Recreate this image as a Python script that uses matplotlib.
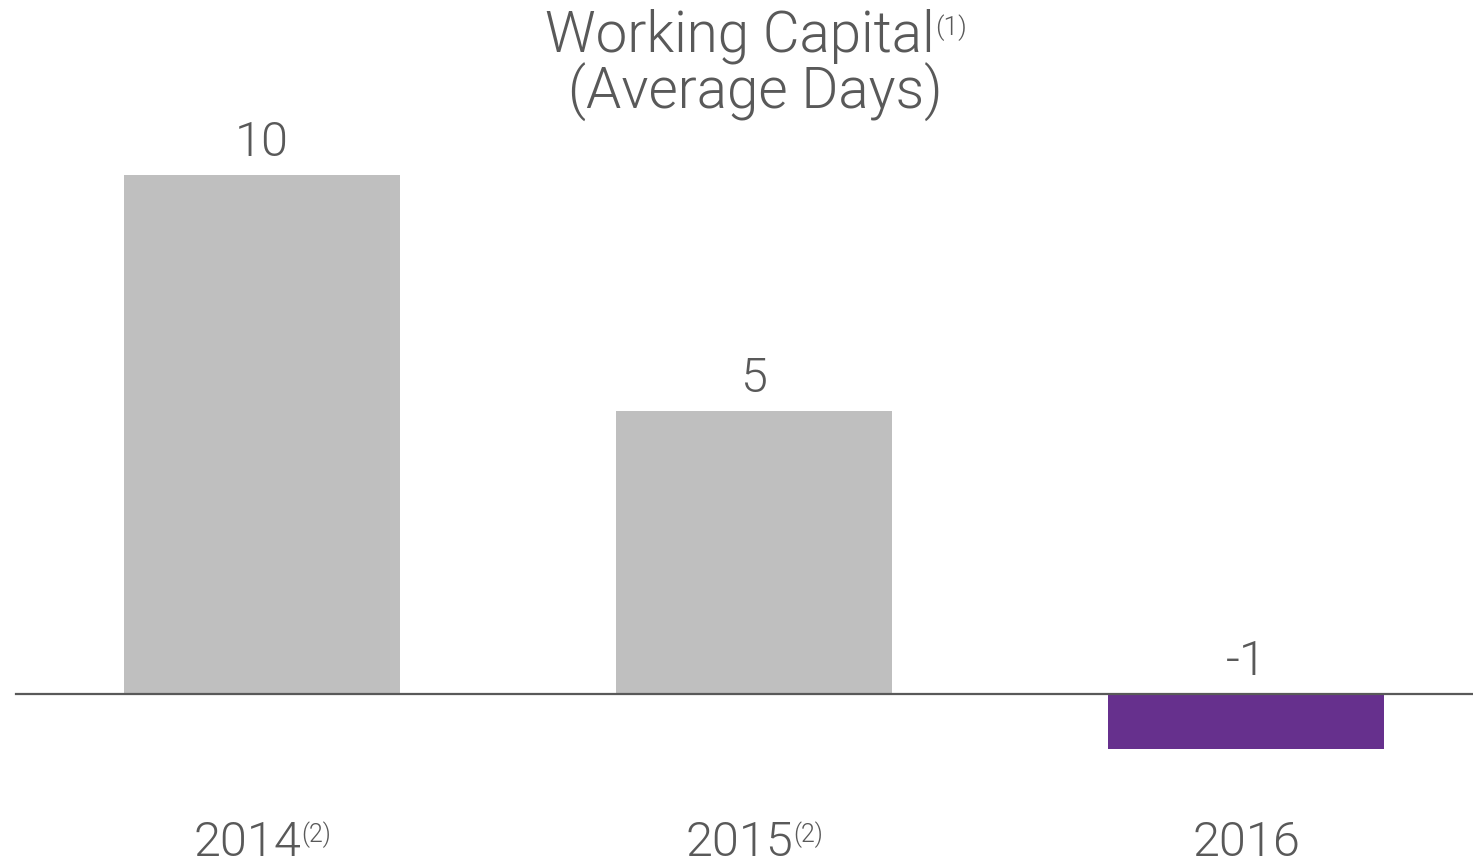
import matplotlib
matplotlib.use("Agg")
import matplotlib.pyplot as plt
from matplotlib.transforms import IdentityTransform

# ---- data ----
categories = ["2014", "2015", "2016"]
category_notes = ["(2)", "(2)", ""]
values = [10.0, 5.45, -1.06]
value_labels = ["10", "5", "-1"]
title_line1 = "Working Capital"
title_note = "(1)"
title_line2 = "(Average Days)"

# ---- style ----
W, H = 1473, 861
TEXT = "#595959"
GRAY = "#BFBFBF"
PURPLE = "#66308D"
bar_colors = [GRAY, GRAY, PURPLE]
FONT = "Roboto"
WEIGHT = 300
plt.rcParams["font.family"] = [FONT, "DejaVu Sans"]

fig = plt.figure(figsize=(W / 100, H / 100), dpi=100)
ax = fig.add_axes([0, 0, 1, 1])

# pixel mapping: bar centers at 262 + 492*i ; zero at y=694 ; 51.9 px/unit
x0_px, step_px = 262, 492
y0_px, unit_px = 694, 51.9
ax.set_xlim(-x0_px / step_px, (W - x0_px) / step_px)
ax.set_ylim(-(H - y0_px) / unit_px, y0_px / unit_px)
ax.axis("off")

xs = list(range(len(categories)))
ax.bar(xs, values, width=276 / step_px, color=bar_colors, zorder=2)
ax.axhline(0, xmin=16 / W, xmax=1, color=TEXT, lw=1.6, zorder=3)

fig.canvas.draw()
renderer = fig.canvas.get_renderer()
ident = IdentityTransform()


def composite(cx, baseline_top, main, sup, size, supsize, raise_px):
    """Draw main text + superscript, combined centered at cx (pixels), baseline in top-down px."""
    yb = H - baseline_top
    t = fig.text(0, yb, main, transform=ident, fontsize=size, color=TEXT,
                 fontweight=WEIGHT, ha="left", va="baseline")
    w1 = t.get_window_extent(renderer).width
    w2 = 0
    s = None
    if sup:
        s = fig.text(0, yb + raise_px, sup, transform=ident, fontsize=supsize,
                     color=TEXT, fontweight=WEIGHT, ha="left", va="baseline")
        w2 = s.get_window_extent(renderer).width
    left = cx - (w1 + w2) / 2
    t.set_x(left)
    if s is not None:
        s.set_x(left + w1)


# title
composite(756, 51, title_line1, title_note, 40.7, 19, 16)
composite(755, 109, title_line2, "", 40.7, 19, 0)

# value labels
for x, v, lab in zip(xs, values, value_labels):
    ax.annotate(lab, (x, max(v, 0)), xytext=(0, 13.5), textcoords="offset points",
                ha="center", va="baseline", fontsize=35, color=TEXT,
                fontweight=WEIGHT)

# category labels
for x, cat, note in zip(xs, categories, category_notes):
    composite(x0_px + step_px * x, 856, cat, note, 35, 18, 14)

fig.savefig("out.png", dpi=100)
